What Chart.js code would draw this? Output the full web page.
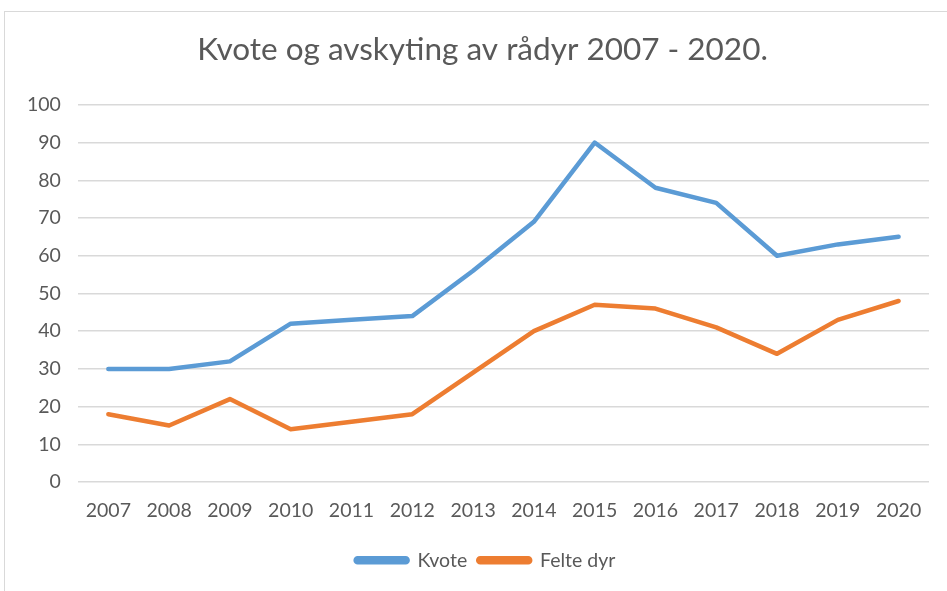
<!DOCTYPE html>
<html>
<head>
<meta charset="utf-8">
<script src="https://cdn.jsdelivr.net/npm/chart.js@4"></script>
<style>
  html, body { margin: 0; padding: 0; background: #fff; }
  body { width: 947px; height: 591px; overflow: hidden; position: relative; }
  #frame { position: absolute; left: 4px; top: 11px; width: 1000px; height: 700px; border: 1px solid #d9d9d9; box-sizing: border-box; }
  #wrap { position: absolute; left: 0; top: 0; width: 947px; height: 591px; }
</style>
</head>
<body>
<div id="frame"></div>
<div id="wrap"><canvas id="c" width="947" height="591"></canvas></div>
<script>
const years = ["2007","2008","2009","2010","2011","2012","2013","2014","2015","2016","2017","2018","2019","2020"];
const kvote = [30, 30, 32, 42, 43, 44, 56, 69, 90, 78, 74, 60, 63, 65];
const felteDyr = [18, 15, 22, 14, 16, 18, 29, 40, 47, 46, 41, 34, 43, 48];
const yTicks = [0, 10, 20, 30, 40, 50, 60, 70, 80, 90, 100];

const FONT = "Lato, 'Open Sans', sans-serif";
const TXT = "#595959";

const shiftBlocks = {
  id: 'shiftBlocks',
  afterLayout(chart) {
    const t = chart.titleBlock;
    if (t) { t.left += 13; t.right += 13; }
    const l = chart.legend;
    if (l) { l.left += 16; l.right += 16; }
  }
};

new Chart(document.getElementById('c'), {
  type: 'line',
  data: {
    labels: years,
    datasets: [
      { label: 'Kvote', data: kvote, borderColor: '#5B9BD5', backgroundColor: '#5B9BD5', borderWidth: 4.5, pointRadius: 0, tension: 0, borderCapStyle: 'round', borderJoinStyle: 'round' },
      { label: 'Felte dyr', data: felteDyr, borderColor: '#ED7D31', backgroundColor: '#ED7D31', borderWidth: 4.5, pointRadius: 0, tension: 0, borderCapStyle: 'round', borderJoinStyle: 'round' }
    ]
  },
  plugins: [shiftBlocks],
  options: {
    responsive: false,
    animation: false,
    devicePixelRatio: 1,
    layout: { padding: { left: 10, right: 18, top: 31, bottom: 11 } },
    plugins: {
      title: { display: true, text: 'Kvote og avskyting av rådyr 2007 - 2020.', color: TXT, font: { family: FONT, size: 31.5, weight: 'normal' }, padding: { top: 0, bottom: 36 } },
      legend: { position: 'bottom', labels: { color: TXT, font: { family: FONT, size: 19.5 }, boxWidth: 52, boxHeight: 4, padding: 11, useBorderRadius: true, borderRadius: 2 } },
      tooltip: { enabled: false }
    },
    scales: {
      x: {
        offset: true,
        grid: { display: false, drawTicks: false },
        border: { display: false },
        ticks: { color: TXT, font: { family: FONT, size: 19.5 }, padding: 17, maxRotation: 0, autoSkip: false }
      },
      y: {
        min: 0, max: 100,
        afterBuildTicks: (ax) => { ax.ticks = yTicks.map(v => ({ value: v })); },
        grid: { color: '#d9d9d9', lineWidth: 1.5, drawTicks: false },
        border: { display: false },
        ticks: { color: TXT, font: { family: FONT, size: 19.5 }, padding: 17 }
      }
    }
  }
});
</script>
</body>
</html>
